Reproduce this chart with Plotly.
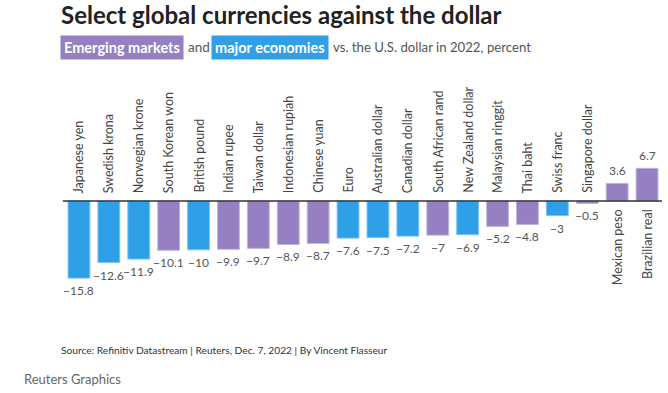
import plotly.graph_objects as go

currencies = ["Japanese yen", "Swedish krona", "Norwegian krone", "South Korean won",
              "British pound", "Indian rupee", "Taiwan dollar", "Indonesian rupiah",
              "Chinese yuan", "Euro", "Australian dollar", "Canadian dollar",
              "South African rand", "New Zealand dollar", "Malaysian ringgit", "Thai baht",
              "Swiss franc", "Singapore dollar", "Mexican peso", "Brazilian real"]
values = [-15.8, -12.6, -11.9, -10.1, -10, -9.9, -9.7, -8.9, -8.7, -7.6, -7.5, -7.2,
          -7, -6.9, -5.2, -4.8, -3, -0.5, 3.6, 6.7]
groups = ["major", "major", "major", "emerging", "major", "emerging", "emerging",
          "emerging", "emerging", "major", "major", "major", "emerging", "major",
          "emerging", "emerging", "major", "emerging", "emerging", "emerging"]

BLUE = "#2f9fe7"
PURPLE = "#9580c1"
BLUE_EDGE = "#7cc3f0"
PURPLE_EDGE = "#c1b3dc"
FONT = "Lato"

W, H = 668, 393
ML, MR, MT, MB = 64, 6, 60, 63
PW, PH = W - ML - MR, H - MT - MB


def px(x):
    return (x - ML) / PW


def py(y):
    return (H - MB - y) / PH


colors = [BLUE if g == "major" else PURPLE for g in groups]
edges = [BLUE_EDGE if g == "major" else PURPLE_EDGE for g in groups]

fig = go.Figure(go.Bar(
    x=currencies, y=values,
    marker=dict(color=colors, line=dict(color=edges, width=1)),
    hoverinfo="x+y",
))

ann = []
for c, v in zip(currencies, values):
    label = f"{v:g}".replace("-", "\u2212")
    ann.append(dict(x=c, y=v, xref="x", yref="y", text=label, showarrow=False,
                    yanchor="top" if v < 0 else "bottom",
                    yshift=-3 if v < 0 else 3,
                    font=dict(family=FONT, size=12, color="#555555")))
    ann.append(dict(x=c, y=0, xref="x", yref="y", text=c, showarrow=False,
                    textangle=-90,
                    yanchor="bottom" if v < 0 else "top",
                    yshift=6 if v < 0 else -6,
                    font=dict(family=FONT, size=12.5, color="#444444")))

# Title & subtitle
ann.append(dict(x=px(59), y=py(15), xref="paper", yref="paper", xanchor="left",
                yanchor="middle", showarrow=False,
                text="<b>Select global currencies against the dollar</b>",
                font=dict(family=FONT, size=24, color="#222222")))
ann.append(dict(x=px(60), y=py(47), xref="paper", yref="paper", xanchor="left",
                yanchor="middle", showarrow=False, text="<b>Emerging markets</b>",
                bgcolor=PURPLE, borderpad=3,
                font=dict(family=FONT, size=14.5, color="white")))
ann.append(dict(x=px(186), y=py(47), xref="paper", yref="paper", xanchor="left",
                yanchor="middle", showarrow=False, text="and",
                font=dict(family=FONT, size=13.5, color="#555555")))
ann.append(dict(x=px(211), y=py(47), xref="paper", yref="paper", xanchor="left",
                yanchor="middle", showarrow=False, text="<b>major economies</b>",
                bgcolor=BLUE, borderpad=3,
                font=dict(family=FONT, size=14.5, color="white")))
ann.append(dict(x=px(331), y=py(47), xref="paper", yref="paper", xanchor="left",
                yanchor="middle", showarrow=False,
                text="vs. the U.S. dollar in 2022, percent",
                font=dict(family=FONT, size=13.2, color="#555555")))
ann.append(dict(x=px(59), y=py(350), xref="paper", yref="paper", xanchor="left",
                yanchor="middle", showarrow=False,
                text="Source: Refinitiv Datastream | Reuters, Dec. 7, 2022 | By Vincent Flasseur",
                font=dict(family=FONT, size=10.2, color="#333333")))
ann.append(dict(x=px(22), y=py(379), xref="paper", yref="paper", xanchor="left",
                yanchor="middle", showarrow=False, text="Reuters Graphics",
                font=dict(family=FONT, size=13, color="#666666")))

fig.update_layout(
    width=W, height=H,
    margin=dict(l=ML, r=MR, t=MT, b=MB),
    paper_bgcolor="white", plot_bgcolor="white",
    showlegend=False,
    bargap=0.27,
    xaxis=dict(visible=False, range=[-0.5, len(currencies) - 0.5]),
    yaxis=dict(visible=False, range=[-26.43, 28.89]),
    annotations=ann,
    shapes=[dict(type="line", xref="paper", yref="y", x0=-0.002, x1=1.0,
                 y0=0, y1=0, line=dict(color="#333333", width=1.5), layer="above")],
)

fig.write_html("out.html", config={"displayModeBar": False},
               post_script="document.body.style.margin='0';")
